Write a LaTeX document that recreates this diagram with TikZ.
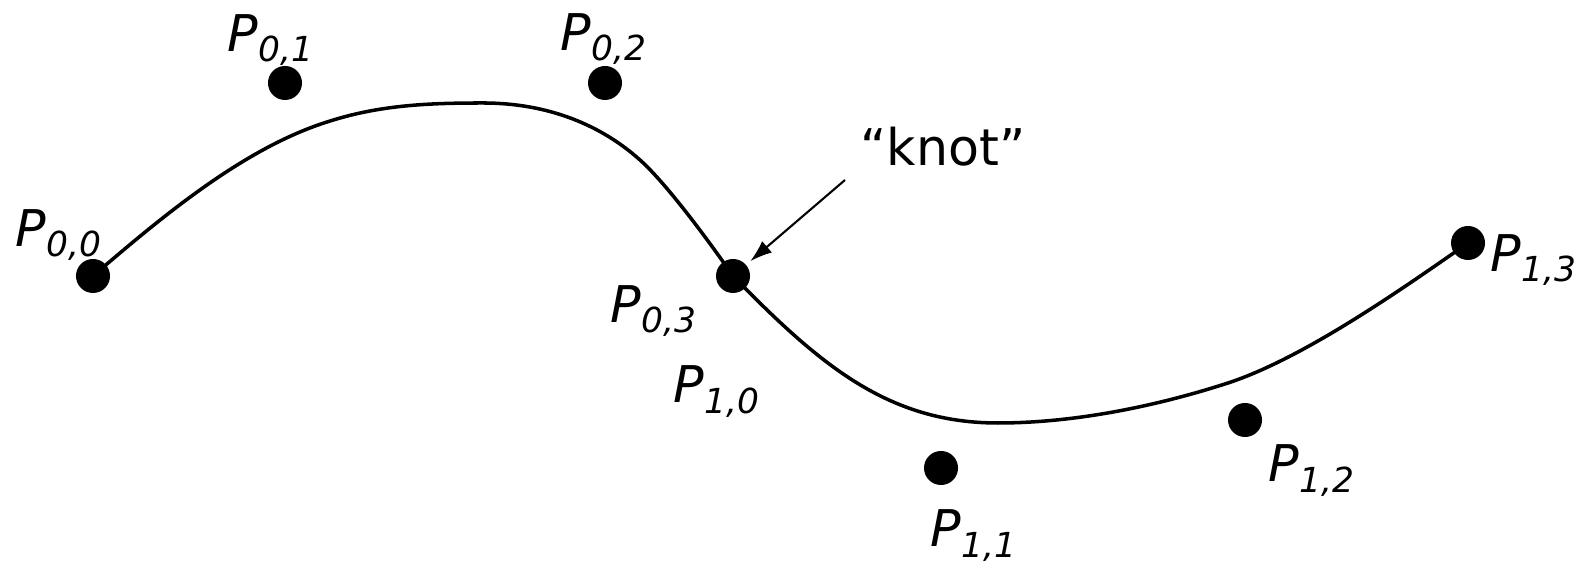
\documentclass[tikz,border=0pt]{standalone}
\usepackage{fontspec}
\setmainfont{DejaVu Sans}
\usetikzlibrary{arrows.meta,positioning}
\tikzset{
  % --- control points and their labels ---------------------------------------
  ctrlpt/.style={circle, fill=black, inner sep=0pt, minimum size=3.4mm},
  ptlabel/.style={inner sep=0pt, anchor=base west,
    font=\fontsize{14.4}{17}\selectfont\itshape},
  knotlabel/.style={inner sep=0pt, anchor=base west,
    font=\fontsize{14.4}{17}\selectfont},
  % --- spline and pointer ----------------------------------------------------
  splineline/.style={draw=black, line width=1pt},
  knotarrow/.style={-{Latex[length=2.2mm,width=1.5mm]}, draw=black,
    line width=0.6pt, shorten >=0.5mm},
}
\newcommand{\cpname}[2]{P\raisebox{-0.1cm}{\fontsize{9.8}{11}\selectfont #1,#2}}

\begin{document}
\begin{tikzpicture}[x=0.01cm, y=0.01cm]
    \useasboundingbox (0,0) rectangle (1589,-568);

    % control points, first segment
    \node[ctrlpt] (p00) at (93,-276) {};
    \node[ctrlpt] (p01) at (285,-83) {};
    \node[ctrlpt] (p02) at (605,-83) {};
    \node[ctrlpt] (p03) at (733,-276) {};
    % control points, second segment
    \node[ctrlpt] (p11) at (941,-468) {};
    \node[ctrlpt] (p12) at (1245,-420) {};
    \node[ctrlpt] (p13) at (1468,-243) {};

    \node[ptlabel] (l00) at (15,-247) {\cpname{0}{0}};
    \node[ptlabel] (l01) at (227,-52) {\cpname{0}{1}};
    \node[ptlabel] (l02) at (560,-51) {\cpname{0}{2}};
    \node[ptlabel] (l03) at (610,-323) {\cpname{0}{3}};
    \node[ptlabel] (l10) at (673,-403) {\cpname{1}{0}};
    \node[ptlabel] (l11) at (930,-547) {\cpname{1}{1}};
    \node[ptlabel] (l12) at (1268,-482) {\cpname{1}{2}};
    \node[ptlabel] (l13) at (1490,-272) {\cpname{1}{3}};

    \node[knotlabel] (knot) at (860,-166) {“knot”};
    \coordinate (knottail) at (845,-180);

    % points the spline runs through
    \coordinate (s1) at (327,-122);
    \coordinate (s2) at (483,-103);
    \coordinate (s3) at (640,-160);
    \coordinate (s4) at (998,-423);
    \coordinate (s5) at (1228,-383);

    \draw[splineline] (p00.center) .. controls (165,-214) and (245,-148) .. (s1)
      .. controls (379,-105) and (428,-103) .. (s2)
      .. controls (548,-103) and (601,-125) .. (s3)
      .. controls (668,-185) and (713,-247) .. (p03.center);
    \draw[splineline] (p03.center) .. controls (820,-365) and (888,-423) .. (s4)
      .. controls (1075,-423) and (1157,-406) .. (s5)
      .. controls (1304,-358) and (1402,-289) .. (p13.center);

    \draw[knotarrow] (knottail) -- (p03);
\end{tikzpicture}
\end{document}
